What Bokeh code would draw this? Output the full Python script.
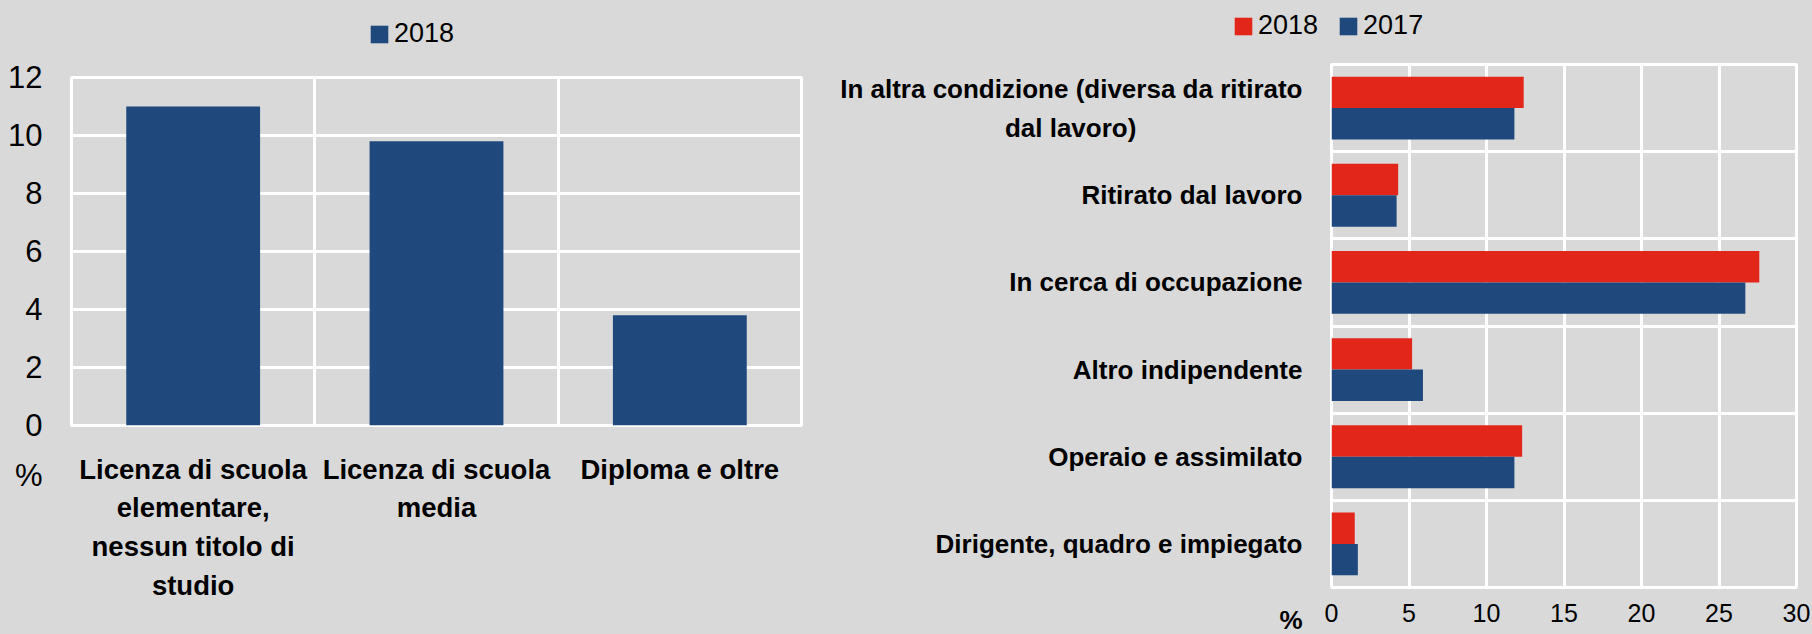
from bokeh.plotting import figure
from bokeh.layouts import row, column
from bokeh.models import Range1d, FixedTicker, Legend, LegendItem, ColumnDataSource
from bokeh.embed import file_html
from bokeh.resources import INLINE

# ---- data ----
edu_categories = [
    "Licenza di scuola\nelementare,\nnessun titolo di\nstudio",
    "Licenza di scuola\nmedia",
    "Diploma e oltre",
]
edu_2018 = [11.0, 9.8, 3.8]
edu_yticks = [0, 2, 4, 6, 8, 10, 12]

NB = "\u00a0"
prof_categories = [
    "In altra condizione (diversa da ritirato\ndal lavoro)" + NB * 23,
    "Ritirato dal lavoro",
    "In cerca di occupazione",
    "Altro indipendente",
    "Operaio e assimilato",
    "Dirigente, quadro e impiegato",
]
prof_2018 = [12.4, 4.3, 27.6, 5.2, 12.3, 1.5]
prof_2017 = [11.8, 4.2, 26.7, 5.9, 11.8, 1.7]
prof_xticks = [0, 5, 10, 15, 20, 25, 30]
unit_label = "%"
series_names = ["2018", "2017"]

# ---- style ----
BG = "#d9d9d9"
BLUE = "#1f497d"
RED = "#e3261a"
FONT = "Liberation Sans"
TOP_H = 55
H = 634 - TOP_H


def base_style(p):
    p.background_fill_color = BG
    p.border_fill_color = BG
    p.outline_line_color = "white"
    p.outline_line_width = 3
    for ax in p.axis:
        ax.axis_line_color = None
        ax.major_tick_line_color = None
        ax.minor_tick_line_color = None
        ax.major_tick_out = 0
        ax.major_tick_in = 0
        ax.minor_tick_out = 0
        ax.minor_tick_in = 0
        ax.major_label_text_font = FONT
        ax.major_label_text_color = "black"
    for g in p.grid:
        g.grid_line_color = "white"
        g.grid_line_width = 3


def legend_style(leg):
    leg.orientation = "horizontal"
    leg.background_fill_alpha = 0
    leg.border_line_alpha = 0
    leg.label_text_font = FONT
    leg.label_text_font_size = "27px"
    leg.label_text_color = "black"
    leg.glyph_width = 22
    leg.glyph_height = 22
    leg.label_standoff = 4
    leg.spacing = 19
    leg.padding = 0
    leg.margin = 0


# ---- left chart ----
n = len(edu_categories)
p1 = figure(width=818, height=H, output_backend="svg", toolbar_location=None,
            x_range=Range1d(0, n), y_range=Range1d(0, 12),
            min_border_left=71, min_border_right=17, min_border_top=77 - TOP_H,
            min_border_bottom=209)
p1.frame_align = False
src1 = ColumnDataSource(dict(x=[i + 0.5 for i in range(n)], top=edu_2018))
r1 = p1.vbar(x="x", top="top", bottom=0, width=0.55, source=src1,
             fill_color=BLUE, line_color=None)
base_style(p1)
p1.xaxis.ticker = FixedTicker(ticks=[i + 0.5 for i in range(n)])
p1.xaxis.major_label_overrides = {i + 0.5: c for i, c in enumerate(edu_categories)}
p1.xaxis.major_label_text_font_size = "27.5px"
p1.xaxis.major_label_text_font_style = "bold"
p1.xaxis.major_label_text_line_height = 1.25
p1.xaxis.major_label_standoff = 28
p1.yaxis.ticker = FixedTicker(ticks=edu_yticks)
yover = {t: str(t) for t in edu_yticks}
yover[edu_yticks[0]] = NB + "\n" + str(edu_yticks[0]) + "\n" + unit_label
p1.yaxis.major_label_overrides = yover
p1.yaxis.major_label_text_font_size = "31px"
p1.yaxis.major_label_text_line_height = 1.42
p1.yaxis.major_label_standoff = 29
p1.xgrid.ticker = FixedTicker(ticks=list(range(1, n)))
p1.ygrid.ticker = FixedTicker(ticks=edu_yticks)

# ---- right chart ----
m = len(prof_categories)
p2 = figure(width=994, height=H, output_backend="svg", toolbar_location=None,
            x_range=Range1d(0, 30), y_range=Range1d(m, 0),
            min_border_left=513, min_border_right=16, min_border_top=64 - TOP_H,
            min_border_bottom=47)
p2.frame_align = False
src2 = ColumnDataSource(dict(
    y18=[i + 0.5 - 0.18 for i in range(m)],
    y17=[i + 0.5 + 0.18 for i in range(m)],
    v18=prof_2018, v17=prof_2017))
r18 = p2.hbar(y="y18", right="v18", left=0, height=0.36, source=src2,
              fill_color=RED, line_color=None)
r17 = p2.hbar(y="y17", right="v17", left=0, height=0.36, source=src2,
              fill_color=BLUE, line_color=None)
base_style(p2)
p2.yaxis.ticker = FixedTicker(ticks=[i + 0.5 for i in range(m)] + [m])
pover = {i + 0.5: c for i, c in enumerate(prof_categories)}
pover[m] = NB + "\n" + NB + "\n" + unit_label
p2.yaxis.major_label_overrides = pover
p2.yaxis.major_label_text_font_size = "26px"
p2.yaxis.major_label_text_font_style = "bold"
p2.yaxis.major_label_text_line_height = 1.3
p2.yaxis.major_label_standoff = 29
p2.xaxis.ticker = FixedTicker(ticks=prof_xticks)
p2.xaxis.major_label_text_font_size = "25px"
p2.xaxis.major_label_standoff = 16
p2.xgrid.ticker = FixedTicker(ticks=prof_xticks[1:-1])
p2.ygrid.ticker = FixedTicker(ticks=list(range(1, m)))

# ---- legend strip (keys for both charts) ----
pl = figure(width=1812, height=TOP_H, output_backend="svg", toolbar_location=None,
            x_range=Range1d(0, 1812), y_range=Range1d(0, TOP_H),
            x_axis_type=None, y_axis_type=None,
            min_border_left=0, min_border_right=0, min_border_top=0, min_border_bottom=0)
pl.frame_align = False
pl.background_fill_color = BG
pl.border_fill_color = BG
pl.outline_line_color = None
pl.grid.visible = False
key_src = ColumnDataSource(dict(x=[-100], top=[0]))
k1 = pl.vbar(x="x", top="top", width=1, source=key_src, fill_color=BLUE, line_color=None)
k18 = pl.vbar(x="x", top="top", width=1, source=key_src, fill_color=RED, line_color=None)
k17 = pl.vbar(x="x", top="top", width=1, source=key_src, fill_color=BLUE, line_color=None)

leg1 = Legend(items=[LegendItem(label=series_names[0], renderers=[k1])], location=(368, 6))
legend_style(leg1)
pl.add_layout(leg1)
leg2 = Legend(items=[LegendItem(label=series_names[0], renderers=[k18]),
                     LegendItem(label=series_names[1], renderers=[k17])], location=(1232, 14))
legend_style(leg2)
pl.add_layout(leg2)

layout = column(pl, row(p1, p2, styles={"background-color": BG}),
                styles={"background-color": BG})
open("out.html", "w").write(file_html(layout, INLINE))
